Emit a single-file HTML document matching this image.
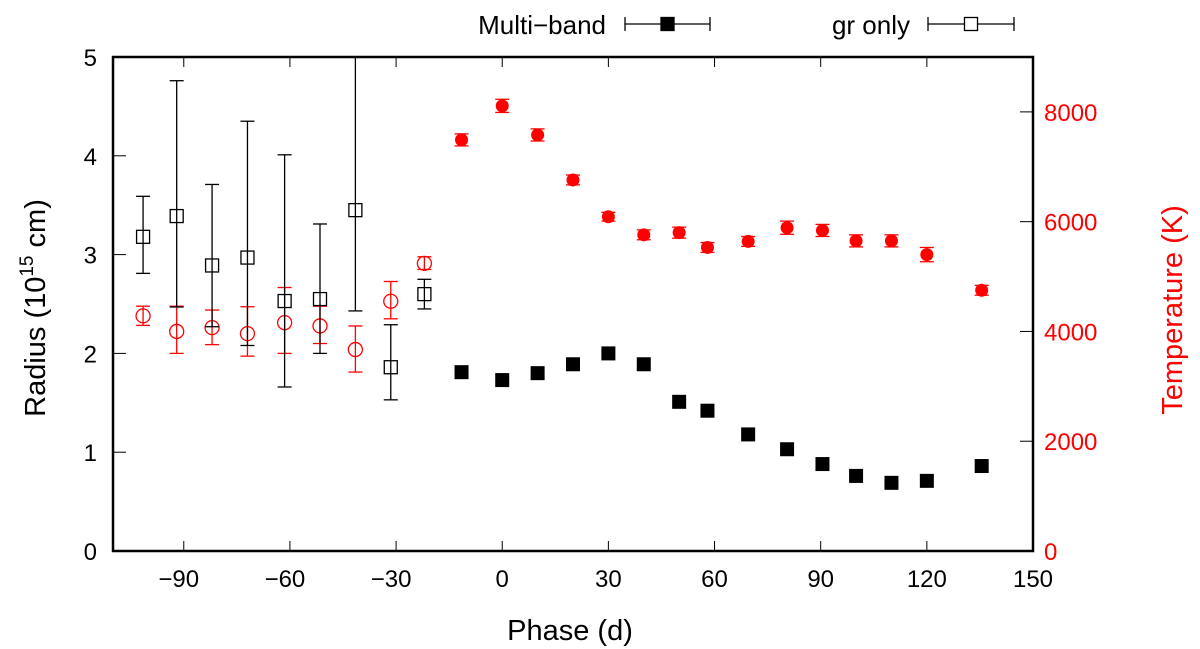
<!DOCTYPE html>
<html><head><meta charset="utf-8"><style>
html,body{margin:0;padding:0;background:#fff}
svg{display:block;font-family:"Liberation Sans",Arial,sans-serif}
</style></head><body>
<svg id="chart" width="1200" height="649" viewBox="0 0 1200 649" xmlns="http://www.w3.org/2000/svg"></svg>
<script>
// ---- data ----
const grPhase=[-101.5,-92,-82,-72,-61.5,-51.5,-41.5,-31.5,-22];
const grRadius=[3.18,3.39,2.89,2.97,2.53,2.55,3.45,1.86,2.60];
const grRadiusLo=[2.81,2.47,2.27,2.08,1.66,2.00,2.43,1.53,2.45];
const grRadiusHi=[3.59,4.76,3.71,4.35,4.01,3.31,5.00,2.29,2.75];
const grTemp=[4284,4000,4070,3960,4160,4100,3670,4550,5240];
const grTempLo=[4110,3600,3760,3550,3600,3780,3260,4230,5130];
const grTempHi=[4460,4460,4390,4450,4800,4460,4100,4910,5360];
const mbPhase=[-11.5,0,10,20,30,40,50,58,69.5,80.5,90.5,100,110,120,135.5];
const mbRadius=[1.81,1.73,1.80,1.89,2.00,1.89,1.51,1.42,1.18,1.03,0.88,0.76,0.69,0.71,0.86];
const mbTemp=[7490,8110,7580,6760,6090,5760,5800,5530,5640,5890,5840,5650,5650,5400,4750];
const mbTempErr=[110,120,110,90,80,90,100,90,90,120,110,110,110,130,90];
const xTicks=[-90,-60,-30,0,30,60,90,120,150];
const yTicks=[0,1,2,3,4,5];
const y2Ticks=[0,2000,4000,6000,8000];

// ---- axes ----
const L=113,R=1033,T=57,B=551;
const xMin=-110,xMax=150,yMax=5,y2Max=9000;
const X=v=>L+(v-xMin)/(xMax-xMin)*(R-L);
const Y=v=>B-v/yMax*(B-T);
const Y2=v=>B-v/y2Max*(B-T);
const svg=document.getElementById('chart');
const NS='http://www.w3.org/2000/svg';
function mk(tag,attrs,parent){const e=document.createElementNS(NS,tag);for(const k in attrs)e.setAttribute(k,attrs[k]);(parent||svg).appendChild(e);return e;}
function txt(s,x,y,size,anchor,fill,name){const t=mk('text',{x:x,y:y,'font-size':size,'text-anchor':anchor,fill:fill});t.textContent=s;


return t;}

xTicks.forEach(v=>{
  const g=mk('g',{});
  
  
  mk('line',{x1:X(v),x2:X(v),y1:B,y2:B-10,stroke:'#000','stroke-width':1},g);
  mk('line',{x1:X(v),x2:X(v),y1:T,y2:T+10,stroke:'#000','stroke-width':1},g);
  txt(String(v).replace('-','\u2212'),X(v)-(v<0?5:0),B+36,24,'middle','#000','x-tick-label');
});
yTicks.forEach(v=>{
  const l=mk('line',{x1:L,x2:L+13,y1:Y(v),y2:Y(v),stroke:'#000','stroke-width':1});
  
  
  txt(String(v),L-16,Y(v)+9,24,'end','#000','y-tick-label');
});
y2Ticks.forEach(v=>{
  const l=mk('line',{x1:R-13,x2:R,y1:Y2(v),y2:Y2(v),stroke:'#000','stroke-width':1});
  
  
  txt(String(v),1044,Y2(v)+9,24,'start','#f00','y2-tick-label');
});
const frame=mk('rect',{x:L,y:T,width:R-L,height:B-T,fill:'none',stroke:'#000','stroke-width':2.5});



txt('Phase (d)',X(20)-3,B+89,29,'middle','#000','x-axis-title');
const yt=mk('text',{x:0,y:0,'font-size':29,'text-anchor':'middle',transform:'translate(45,'+((T+B)/2+4)+') rotate(-90)'});


yt.innerHTML='Radius (10<tspan font-size="19" dy="-12">15</tspan><tspan dy="12"> cm)</tspan>';
const y2t=mk('text',{x:0,y:0,'font-size':29,'text-anchor':'middle',fill:'#f00',transform:'translate(1182,'+((T+B)/2+6)+') rotate(-90)'});
y2t.textContent='Temperature (K)';



function errbar(x,lo,hi,color){
  const g=mk('g',{stroke:color,'stroke-width':1.3});
  mk('line',{x1:x,x2:x,y1:lo,y2:hi},g);
  mk('line',{x1:x-7,x2:x+7,y1:lo,y2:lo},g);
  mk('line',{x1:x-7,x2:x+7,y1:hi,y2:hi},g);
  return g;
}
grPhase.forEach((p,i)=>{
  const g=errbar(X(p),Y2(grTempLo[i]),Y2(grTempHi[i]),'#f00');
  
  
  const c=mk('circle',{cx:X(p),cy:Y2(grTemp[i]),r:7,fill:'none',stroke:'#f00','stroke-width':1.3});
  
  
});
grPhase.forEach((p,i)=>{
  const g=errbar(X(p),Y(grRadiusLo[i]),Y(Math.min(grRadiusHi[i],5)),'#000');
  
  
  const s=mk('rect',{x:X(p)-6.5,y:Y(grRadius[i])-6.5,width:13,height:13,fill:'none',stroke:'#000','stroke-width':1.3});
  
  
});
mbPhase.forEach((p,i)=>{
  const g=errbar(X(p),Y2(mbTemp[i]-mbTempErr[i]),Y2(mbTemp[i]+mbTempErr[i]),'#f00');
  
  
  const c=mk('circle',{cx:X(p),cy:Y2(mbTemp[i]),r:6.5,fill:'#f00'});
  
  
});
mbPhase.forEach((p,i)=>{
  const s=mk('rect',{x:X(p)-7,y:Y(mbRadius[i])-7,width:14,height:14,fill:'#000'});
  
  
});

function legend(label,textRight,x1,x2,filled,name){
  const g=mk('g',{});
  
  
  const t=mk('text',{x:textRight,y:34,'font-size':26,'text-anchor':'end'},g);t.textContent=label;
  const eb=mk('g',{stroke:'#000','stroke-width':1.3},g);
  mk('line',{x1:x1,x2:x2,y1:24,y2:24},eb);
  mk('line',{x1:x1,x2:x1,y1:17,y2:31},eb);
  mk('line',{x1:x2,x2:x2,y1:17,y2:31},eb);
  const m=(x1+x2)/2;
  mk('rect',{x:m-6.5,y:17.5,width:13,height:13,fill:filled?'#000':'#fff',stroke:'#000','stroke-width':1.3},g);
}
legend('Multi\u2212band',606,625,710,true,'legend-multi-band');
legend('gr only',910,928,1014,false,'legend-gr-only');
</script>
</body></html>
